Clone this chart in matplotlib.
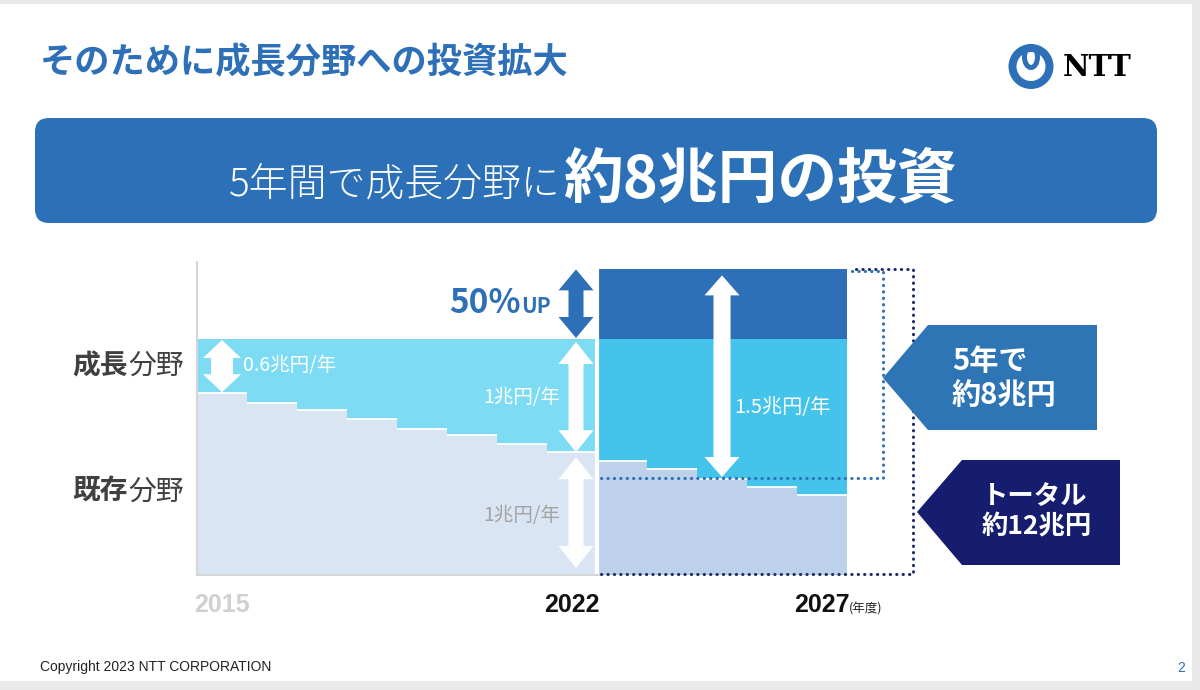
import matplotlib
matplotlib.use('Agg')
import matplotlib.pyplot as plt
from matplotlib.patches import Polygon, FancyBboxPatch, Rectangle, Circle, Ellipse
import numpy as np

plt.rcParams['font.family'] = ['Noto Sans CJK JP', 'DejaVu Sans']

# values in 兆円/年 (schematic heights)
years_past = [2015, 2016, 2017, 2018, 2019, 2020, 2021, 2022]
existing_past = [1.54, 1.46, 1.40, 1.32, 1.24, 1.19, 1.11, 1.04]
growth_past = [0.46, 0.54, 0.60, 0.68, 0.76, 0.81, 0.89, 0.96]

years_plan = [2023, 2024, 2025, 2026, 2027]
existing_plan = [0.97, 0.90, 0.81, 0.75, 0.68]
growth_plan = [1.03, 1.10, 1.19, 1.25, 1.32]
upside_plan = [0.59, 0.59, 0.59, 0.59, 0.59]

year_ticks = [2015, 2022, 2027]
year_labels = ['2015', '2022', '2027']
year_colors = ['#d0d0d0', '#111111', '#111111']

BLUE = '#2e70b8'
NAVY = '#161d6f'
PX = 100 / 72.0   # pixels per point

fig = plt.figure(figsize=(12, 6.9), dpi=100)
fig.patch.set_facecolor('#e9e9e9')

# slide background / header / footer, in pixel coords
bg = fig.add_axes([0, 0, 1, 1])
bg.set_xlim(0, 1200)
bg.set_ylim(690, 0)
bg.axis('off')
bg.add_patch(Rectangle((0, 4), 1192, 677, fc='white', ec='none'))

bg.text(40, 63, 'そのために成長分野への投資拡大', fontsize=25.4, weight='bold',
        color=BLUE, va='center', ha='left')

bg.add_patch(FancyBboxPatch((35, 118), 1122, 105, boxstyle='round,pad=0,rounding_size=14',
                            fc='#2c71b7', ec='none'))
bg.text(561, 197, '5年間で成長分野に', fontsize=28, weight='light', color='white',
        ha='right', va='baseline')
bg.text(563, 197, '約8兆円の投資', fontsize=43, weight='bold', color='white',
        ha='left', va='baseline')

# NTT logo
bg.add_patch(Circle((1031, 66.5), 18.5, fill=False, lw=8 / PX, ec=BLUE))
bg.add_patch(Ellipse((1031, 57), 13, 21, fill=False, lw=5 / PX, ec=BLUE))
bg.text(1063, 67, 'NTT', family='DejaVu Serif', weight='bold', fontsize=21,
        color='black', va='center', ha='left')

bg.text(40, 667, 'Copyright 2023 NTT CORPORATION', family='Liberation Sans', fontsize=10,
        color='#222222', va='center', ha='left')
bg.text(1181, 668, '2', family='Liberation Sans', fontsize=10, color=BLUE,
        va='center', ha='center')

# left labels
for y, bold, rest in [(366, '成長', '分野'), (492, '既存', '分野')]:
    bg.text(128, y, bold, fontsize=20, weight='bold', color='#404040', ha='right', va='center')
    bg.text(128, y, rest, fontsize=20, color='#404040', ha='left', va='center')

# chart
ax = fig.add_axes([197 / 1200, 115 / 690, 750 / 1200, 313 / 690])
ax.set_xlim(2014.5, 2029.5)
ax.set_ylim(0, 313 / 118)
ax.patch.set_visible(False)
for s in ['top', 'right', 'bottom']:
    ax.spines[s].set_visible(False)
ax.spines['left'].set_color('#d6d6d6')
ax.spines['left'].set_linewidth(1.5)
ax.set_yticks([])

ax.bar(years_past, existing_past, width=1.0, color='#d9e5f3', lw=0)
ax.bar(years_past, growth_past, width=1.0, bottom=existing_past, color='#7ddcf3', lw=0)
ax.bar(years_plan, existing_plan, width=1.0, color='#bdd1ea', lw=0)
ax.bar(years_plan, growth_plan, width=1.0, bottom=existing_plan, color='#45c4eb', lw=0)
plan_top = np.array(existing_plan) + np.array(growth_plan)
ax.bar(years_plan, upside_plan, width=1.0, bottom=plan_top, color='#2d70b7', lw=0)

# white edges on the steps
yp = np.array(years_past)
ax.hlines(existing_past, yp - 0.5, yp + 0.5, color='white', lw=1.3)
ypl = np.array(years_plan)
ax.hlines(existing_plan, ypl - 0.5, ypl + 0.5, color='white', lw=1.3)
ax.vlines(2022.5, 0, plan_top[0] + upside_plan[0], color='white', lw=3)
ax.plot([2014.5, 2022.6], [0, 0], color='#d6d6d6', lw=1.5, clip_on=False)

ax.set_xticks(year_ticks)
ax.set_xticklabels(year_labels, family='Liberation Sans', weight='bold', fontsize=18)
for lbl, c in zip(ax.get_xticklabels(), year_colors):
    lbl.set_color(c)
ax.tick_params(axis='x', length=0, pad=13)

# dotted boxes around the plan period
dots = dict(ls=(0, (0.1, 2)), lw=2.2, dash_capstyle='round', clip_on=False)
ax.plot([2022.58, 2028.82, 2028.82, 2027.56], [0.008, 0.008, 2.593, 2.593], color='#1c2b6e', **dots)
ax.plot([2022.58, 2028.22, 2028.22, 2027.56], [0.822, 0.822, 2.576, 2.576], color=BLUE, **dots)

# overlay for arrows and callouts, pixel coords
ov = fig.add_axes([0, 0, 1, 1])
ov.set_xlim(0, 1200)
ov.set_ylim(690, 0)
ov.axis('off')


def to_px(x, y):
    return ov.transData.inverted().transform(ax.transData.transform((x, y)))


def double_arrow(xc, y_top, y_bot, shaft, head_w, head_l, color):
    s, h = shaft / 2, head_w / 2
    pts = [(xc, y_top), (xc + h, y_top + head_l), (xc + s, y_top + head_l),
           (xc + s, y_bot - head_l), (xc + h, y_bot - head_l), (xc, y_bot),
           (xc - h, y_bot - head_l), (xc - s, y_bot - head_l),
           (xc - s, y_top + head_l), (xc - h, y_top + head_l)]
    ov.add_patch(Polygon(pts, closed=True, fc=color, ec='none'))


# 0.6兆円/年 (2015)
x0, y_lo = to_px(2015, existing_past[0])
_, y_hi = to_px(2015, existing_past[0] + growth_past[0])
double_arrow(x0, y_hi + 1, y_lo - 1, 22, 38, 18, 'white')
ov.text(x0 + 21, (y_hi + y_lo) / 2 - 1, '0.6兆円/年', fontsize=14, color='white', va='center')

# 1兆円/年 (2022), growth and existing
x1, y_mid = to_px(2022, existing_past[-1])
_, y_hi = to_px(2022, existing_past[-1] + growth_past[-1])
_, y_base = to_px(2022, 0)
x1 += 4
double_arrow(x1, y_hi + 3, y_mid, 15, 35, 22, 'white')
ov.text(x1 - 16, (y_hi + y_mid) / 2 + 2, '1兆円/年', fontsize=14, color='white',
        ha='right', va='center')
double_arrow(x1, y_mid + 5, y_base - 7, 15, 35, 22, 'white')
ov.text(x1 - 16, (y_mid + y_base) / 2 + 2, '1兆円/年', fontsize=14, color='#a3a3a3',
        ha='right', va='center')

# 50%UP
_, y_up = to_px(2022, plan_top[0] + upside_plan[0])
_, y_pl = to_px(2022, plan_top[0])
double_arrow(x1, y_up, y_pl - 1, 15, 35, 21, BLUE)
ov.text(x1 - 55, 313, '50%', fontsize=24, weight='bold', color=BLUE, ha='right', va='baseline')
ov.text(x1 - 55, 313, 'UP', fontsize=15, weight='bold', color=BLUE, ha='left', va='baseline')

# 1.5兆円/年 (plan)
x2, y_t = to_px(2025, plan_top[2] + upside_plan[2])
double_arrow(x2, y_t + 6, 477, 17, 35, 20, 'white')
ov.text(x2 + 12, 408, '1.5兆円/年', fontsize=14.5, color='white', va='center')

# callouts
ov.add_patch(Polygon([(883, 378), (928, 325), (1097, 325), (1097, 430), (928, 430)],
                     closed=True, fc='#2e75b6', ec='none'))
ov.text(952, 361, '5年で', fontsize=21, weight='bold', color='white', va='center')
ov.text(952, 395, '約8兆円', fontsize=21, weight='bold', color='white', va='center')

ov.add_patch(Polygon([(917, 512), (962, 460), (1120, 460), (1120, 565), (962, 565)],
                     closed=True, fc=NAVY, ec='none'))
ov.text(982, 497, 'トータル', fontsize=19, weight='bold', color='white', va='center')
ov.text(982, 527, '約12兆円', fontsize=19, weight='bold', color='white', va='center')

ov.text(849, 609, '(年度)', fontsize=9, color='#222222', va='center', ha='left')

fig.savefig('out.png', dpi=100, facecolor=fig.get_facecolor())
